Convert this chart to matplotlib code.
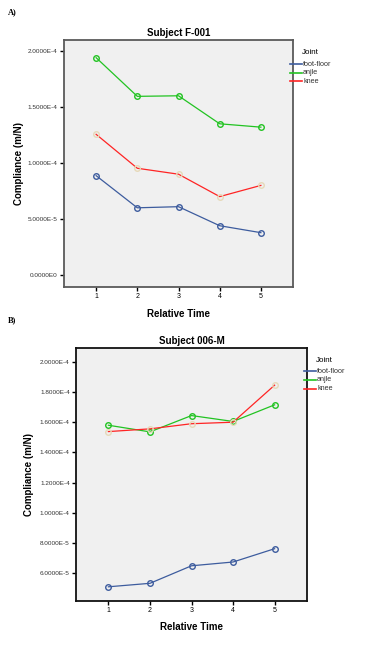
import matplotlib
matplotlib.use("Agg")
import matplotlib.pyplot as plt
from matplotlib.lines import Line2D

plt.rcParams['font.family'] = ['Liberation Sans', 'DejaVu Sans']

# Relative time points
times = [1, 2, 3, 4, 5]
joints = ["foot-floor", "anjle", "knee"]

# Subject F-001 compliance (m/N)
f001_foot = [0.887e-4, 0.60e-4, 0.61e-4, 0.44e-4, 0.378e-4]
f001_ankle = [1.94e-4, 1.595e-4, 1.60e-4, 1.35e-4, 1.32e-4]
f001_knee = [1.256e-4, 0.953e-4, 0.90e-4, 0.70e-4, 0.80e-4]

# Subject 006-M compliance (m/N)
m006_foot = [5.11e-5, 5.34e-5, 6.50e-5, 6.75e-5, 7.63e-5]
m006_ankle = [1.58e-4, 1.536e-4, 1.644e-4, 1.605e-4, 1.715e-4]
m006_knee = [1.538e-4, 1.556e-4, 1.59e-4, 1.60e-4, 1.845e-4]

# y tick values and labels
a_yticks = [0.0, 5e-5, 1e-4, 1.5e-4, 2e-4]
a_ylabels = ["0.0000E0", "5.0000E-5", "1.0000E-4", "1.5000E-4", "2.0000E-4"]
b_yticks = [6e-5, 8e-5, 1e-4, 1.2e-4, 1.4e-4, 1.6e-4, 1.8e-4, 2e-4]
b_ylabels = ["6.0000E-5", "8.0000E-5", "1.0000E-4", "1.2000E-4",
             "1.4000E-4", "1.6000E-4", "1.8000E-4", "2.0000E-4"]

line_colors = ["#3d5c9e", "#22c322", "#ff2424"]
marker_edges = ["#3d5c9e", "#22c322", "#e6d9b8"]

W, H = 366, 661
fig = plt.figure(figsize=(W / 100, H / 100), dpi=100)


def draw_legend(x, y_title, y_first, step):
    # legend drawn by hand in pixel positions of the figure
    fig.text(x / W, 1 - y_title / H, "Joint", fontsize=5.8, va="center", ha="left")
    for i, (name, c) in enumerate(zip(joints, line_colors)):
        yy = 1 - (y_first + i * step) / H
        fig.add_artist(Line2D([(x - 12) / W, x / W], [yy, yy], color=c, lw=1.2))
        fig.text((x + 1) / W, yy, name, fontsize=5.2, va="center", ha="left",
                 color="#333333")


def draw_panel(ax, series, title, yticks, ylabels, ylim, frame_color, ylabel_x):
    ax.set_facecolor("#f0f0f0")
    for vals, lc, mc in zip(series, line_colors, marker_edges):
        ax.plot(times, vals, color=lc, lw=0.9, marker="o", ms=4,
                mfc="none", mec=mc, mew=1.0)
    ax.set_xlim(0.22, 5.78)
    ax.set_ylim(*ylim)
    ax.set_xticks(times)
    ax.set_xticklabels([str(t) for t in times], fontsize=5)
    ax.set_yticks(yticks)
    ax.set_yticklabels(ylabels, fontsize=4.6, color="#333333")
    ax.tick_params(axis="both", direction="out", length=3, width=1.0, pad=1.5)
    for s in ax.spines.values():
        s.set_color(frame_color)
        s.set_linewidth(1.3)
    ax.set_title(title, fontsize=7, fontweight="bold", pad=3)
    ax.set_xlabel("Relative Time", fontsize=7, fontweight="bold", labelpad=6)
    ax.set_ylabel("Compliance (m/N)", fontsize=7, fontweight="bold")
    ax.yaxis.set_label_coords(ylabel_x, 0.5)


ax_a = fig.add_axes([64 / W, 1 - 287 / H, 229 / W, 247 / H])
draw_panel(ax_a, [f001_foot, f001_ankle, f001_knee], "Subject F-001",
           a_yticks, a_ylabels, (-1.07e-5, 2.098e-4), "#5a5a5a", -0.175)
draw_legend(302, 52, 64, 8.6)

ax_b = fig.add_axes([76 / W, 1 - 600.7 / H, 231 / W, 253 / H])
draw_panel(ax_b, [m006_foot, m006_ankle, m006_knee], "Subject 006-M",
           b_yticks, b_ylabels, (4.19e-5, 2.093e-4), "#111111", -0.18)
draw_legend(316, 360, 371.3, 8.7)

fig.text(8 / W, 1 - 12 / H, "A)", family="Liberation Serif",
         fontsize=6, fontweight="bold", va="center")
fig.text(8 / W, 1 - 320 / H, "B)", family="Liberation Serif",
         fontsize=6, fontweight="bold", va="center")

fig.savefig("out.png", dpi=100)
